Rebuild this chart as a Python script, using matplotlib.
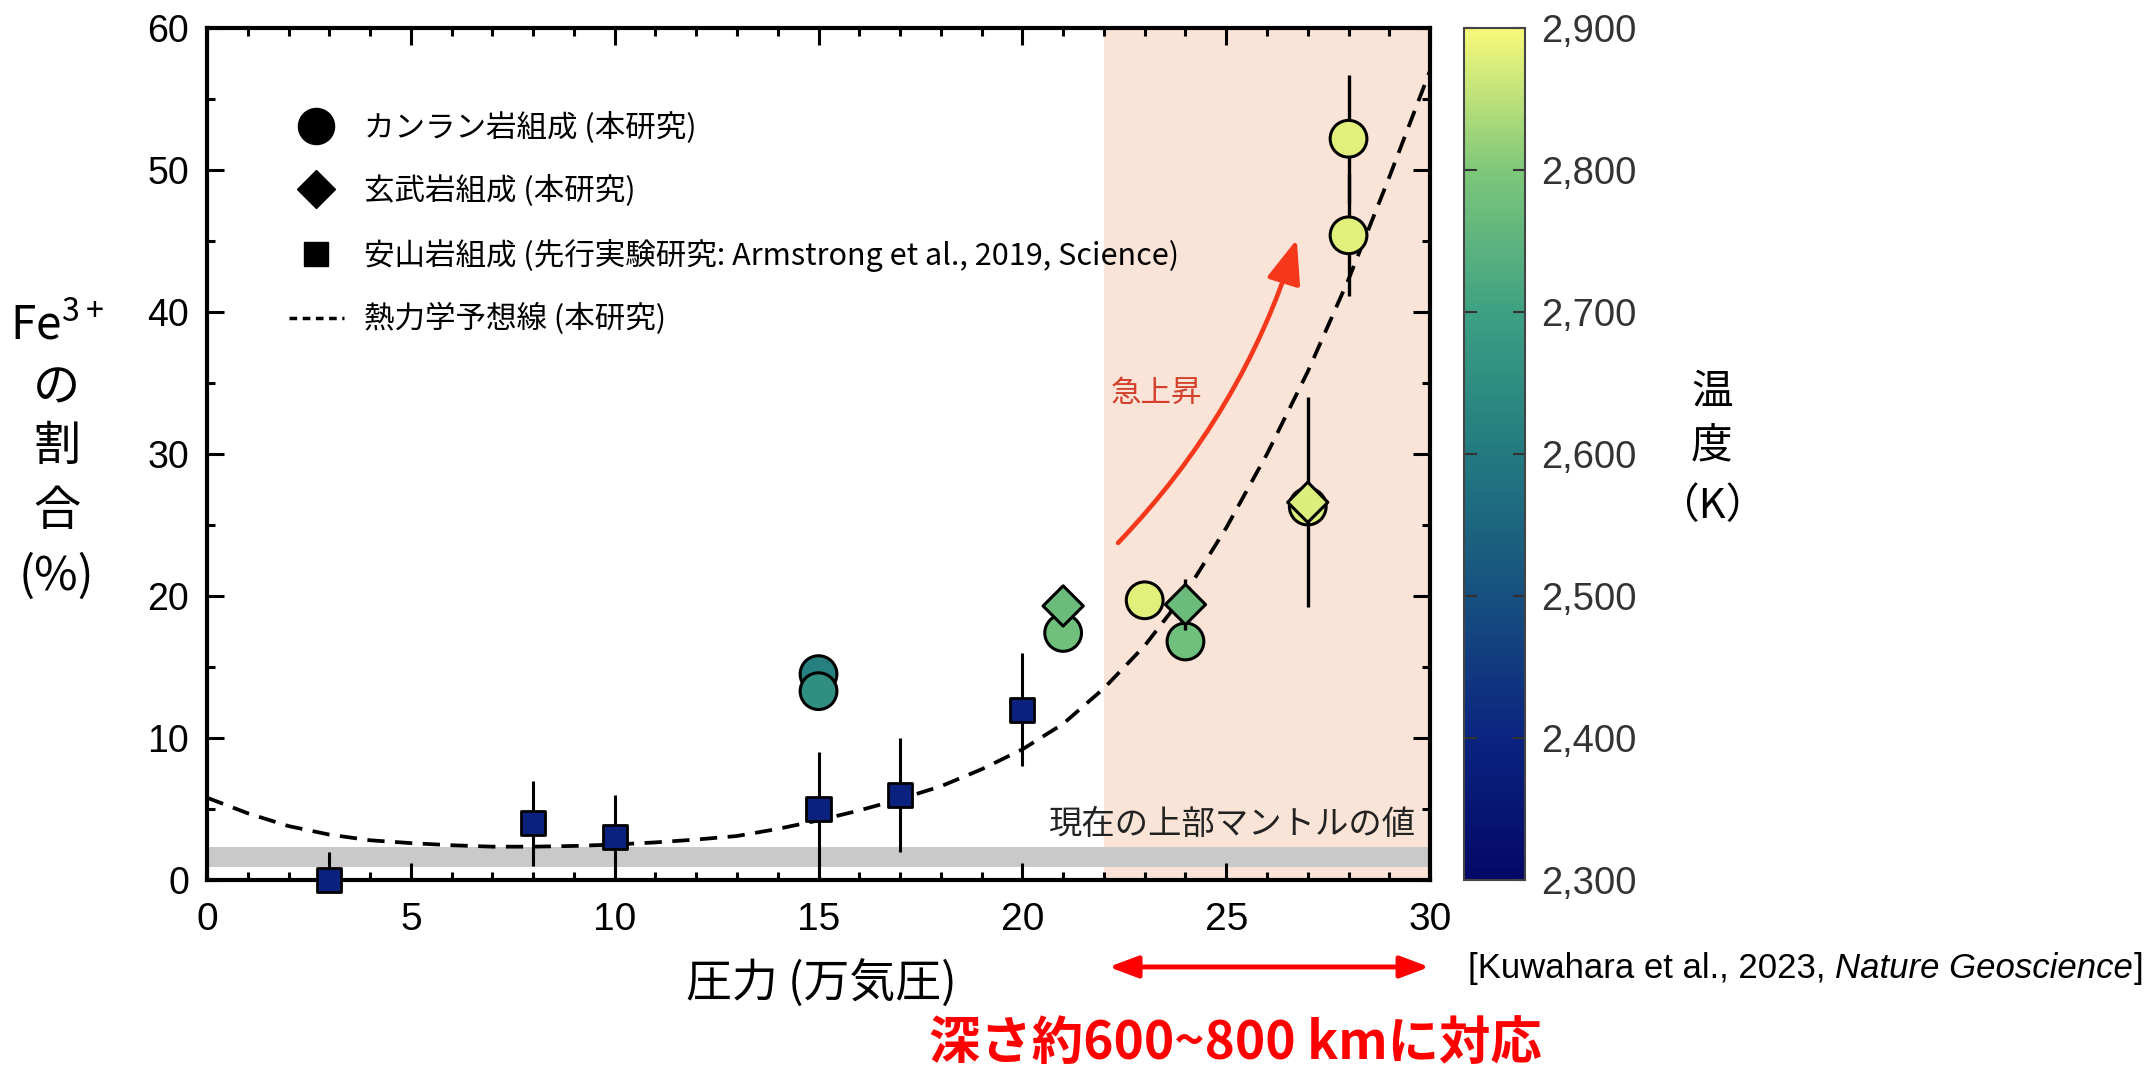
import numpy as np
import matplotlib
matplotlib.use("Agg")
import matplotlib.pyplot as plt
from matplotlib.colors import LinearSegmentedColormap, Normalize
from matplotlib.lines import Line2D
from matplotlib.ticker import MultipleLocator, FuncFormatter

plt.rcParams['font.family'] = ['Noto Sans CJK JP', 'DejaVu Sans']
plt.rcParams['mathtext.default'] = 'regular'

# 安山岩組成 (Armstrong et al., 2019)
and_p = [3, 8, 10, 15, 17, 20]
and_fe = [0, 4, 3, 5, 6, 12]
and_err_lo = [2, 3, 3, 5, 4, 4]
and_err_hi = [2, 3, 3, 4, 4, 4]
and_t = [2390, 2390, 2390, 2390, 2390, 2390]

# カンラン岩組成 (本研究)
per_p = [15, 15, 21, 23, 24, 27, 28, 28]
per_fe = [14.5, 13.3, 17.4, 19.7, 16.8, 26.3, 52.2, 45.4]
per_err = [0, 0, 0, 0, 0, 0, 4.5, 4.3]
per_t = [2615, 2655, 2780, 2880, 2780, 2875, 2880, 2880]

# 玄武岩組成 (本研究)
bas_p = [21, 24, 27]
bas_fe = [19.3, 19.4, 26.6]
bas_err = [0, 1.8, 7.4]
bas_t = [2770, 2770, 2875]

# 熱力学予想線 (本研究)
model_p = [0, 1, 2, 3, 4, 5, 6, 7, 8, 9, 10, 11, 12, 13, 14, 15, 16, 17, 18, 19,
           20, 21, 22, 23, 24, 25, 26, 27, 28, 29, 30]
model_fe = [5.8, 4.7, 3.8, 3.2, 2.8, 2.6, 2.45, 2.35, 2.35, 2.4, 2.5, 2.65, 2.85, 3.1,
            3.6, 4.2, 4.9, 5.7, 6.6, 7.8, 9.2, 11.0, 13.5, 16.5, 20.2, 24.8, 30.0,
            35.8, 42.3, 49.5, 57.0]

upper_mantle = (0.9, 2.3)
deep_range = (22, 30)
t_ticks = [2300, 2400, 2500, 2600, 2700, 2800, 2900]

cmap = LinearSegmentedColormap.from_list(
    'temp', ['#040866', '#0b2480', '#17507f', '#227a80', '#3da082', '#7ec77a', '#f7f97a'])
norm = Normalize(vmin=2300, vmax=2900)

fig = plt.figure(figsize=(21.56, 10.68), dpi=100)
ax = fig.add_axes([0.096, 0.176, 0.5673, 0.7978])
cax = fig.add_axes([0.679, 0.176, 0.0283, 0.7978])

ax.axvspan(*deep_range, color='#fae4d7', zorder=0, lw=0)
ax.axhspan(*upper_mantle, color='#c9c9c9', zorder=0.5, lw=0)
ax.text(29.65, 3.9, '現在の上部マントルの値', ha='right', va='center', fontsize=24, color='#222222')

ax.plot(model_p, model_fe, color='black', lw=2.7, dashes=(4.6, 2.8), zorder=1.5)

ax.errorbar(and_p, and_fe, yerr=[and_err_lo, and_err_hi], fmt='none', ecolor='black',
            elinewidth=2.2, zorder=2)
ax.scatter(and_p, and_fe, c=and_t, cmap=cmap, norm=norm, marker='s', s=300,
           edgecolors='black', linewidths=2, zorder=3, clip_on=False)

ax.errorbar(per_p, per_fe, yerr=per_err, fmt='none', ecolor='black', elinewidth=2.4, zorder=2)
ax.scatter(per_p, per_fe, c=per_t, cmap=cmap, norm=norm, marker='o', s=700,
           edgecolors='black', linewidths=2.2, zorder=3)

ax.errorbar(bas_p, bas_fe, yerr=bas_err, fmt='none', ecolor='black', elinewidth=2.4, zorder=4)
ax.scatter(bas_p, bas_fe, c=bas_t, cmap=cmap, norm=norm, marker='D', s=420,
           edgecolors='black', linewidths=2.2, zorder=5)

# 急上昇 arrow
ax.annotate('', xy=(26.75, 45.3), xytext=(22.3, 23.6),
            arrowprops=dict(arrowstyle='-|>,head_length=0.9,head_width=0.35', mutation_scale=30,
                            color='#f5371b', lw=3.3, connectionstyle='arc3,rad=0.12'))
ax.text(23.3, 34.3, '急上昇', ha='center', va='center', fontsize=22, color='#d4402c')

ax.set_xlim(0, 30)
ax.set_ylim(0, 60)
ax.xaxis.set_major_locator(MultipleLocator(5))
ax.xaxis.set_minor_locator(MultipleLocator(1))
ax.yaxis.set_major_locator(MultipleLocator(10))
ax.yaxis.set_minor_locator(MultipleLocator(5))
ax.tick_params(which='both', direction='in', top=True, right=True, width=2.2, colors='black')
ax.tick_params(which='major', length=12)
ax.tick_params(which='minor', length=6)
ax.tick_params(axis='x', labelsize=28, pad=16, labelfontfamily='Liberation Sans')
ax.tick_params(axis='y', labelsize=27, pad=13, labelfontfamily='Liberation Sans')
for sp in ax.spines.values():
    sp.set_linewidth(3)

ax.set_xlabel('圧力 (万気圧)', fontsize=33)
ax.xaxis.label.set_va('center')
ax.xaxis.set_label_coords(0.502, -0.123)

legend_handles = [
    Line2D([], [], marker='o', color='black', ms=26, ls='none'),
    Line2D([], [], marker='D', color='black', ms=19, ls='none'),
    Line2D([], [], marker='s', color='black', ms=17, ls='none'),
    Line2D([], [], color='black', lw=2.5, dashes=(2.2, 1.6)),
]
legend_labels = ['カンラン岩組成 (本研究)', '玄武岩組成 (本研究)',
                 '安山岩組成 (先行実験研究: Armstrong et al., 2019, Science)', '熱力学予想線 (本研究)']
ax.legend(legend_handles, legend_labels, loc='upper left', bbox_to_anchor=(0.067, 0.902),
          frameon=False, fontsize=22, handlelength=1.8, handletextpad=0.65, labelspacing=1.03,
          borderaxespad=0, borderpad=0)

# y label, stacked
fig.text(0.0264, 0.6957, 'Fe$^{3+}$', ha='center', va='center', fontsize=33)
for yy, ch in zip([0.6367, 0.5815, 0.5206, 0.4597], ['の', '割', '合', '(%)']):
    fig.text(0.0264, yy, ch, ha='center', va='center', fontsize=34)

# colorbar
sm = plt.cm.ScalarMappable(norm=norm, cmap=cmap)
cb = fig.colorbar(sm, cax=cax, ticks=t_ticks)
cb.outline.set_linewidth(1.5)
cb.outline.set_edgecolor('#444444')
cax.tick_params(direction='in', left=True, right=True, length=9, width=1.5, colors='#333333',
                labelsize=27.5, pad=12, labelfontfamily='Liberation Sans')
cax.yaxis.set_major_formatter(FuncFormatter(lambda v, p: f'{v:,.0f}'))
for yy, ch in zip([0.633, 0.5815, 0.526], ['温', '度', '（K）']):
    fig.text(0.794, yy, ch, ha='center', va='center', fontsize=30)

# bottom annotations
ax.annotate('', xy=(30.05, 0.0946), xytext=(22.05, 0.0946),
            xycoords=('data', 'figure fraction'), textcoords=('data', 'figure fraction'),
            arrowprops=dict(arrowstyle='<|-|>,head_length=0.8,head_width=0.3', mutation_scale=22,
                            color='#ff0000', lw=3.5), annotation_clip=False)
fig.text(0.573, 0.0085, '深さ約600~800 kmに対応', ha='center', va='baseline', fontsize=37,
         fontweight='bold', color='#ff0000')

cite = fig.text(0.681, 0.0936, '[Kuwahara et al., 2023, ', ha='left', va='center', fontsize=25,
                family='Liberation Sans')
cite2 = ax.annotate('Nature Geoscience', xy=(1, 0), xycoords=cite, va='bottom', ha='left',
                    fontsize=25, family='Liberation Sans', style='italic', annotation_clip=False)
ax.annotate(']', xy=(1, 0), xycoords=cite2, va='bottom', ha='left', fontsize=25,
            family='Liberation Sans', annotation_clip=False)

fig.savefig('out.png', dpi=100)
